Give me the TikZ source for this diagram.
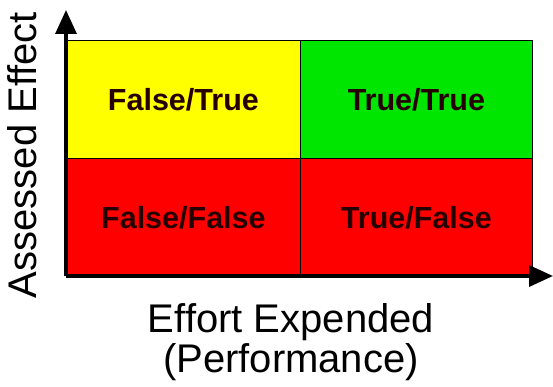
\documentclass[tikz,border=0pt]{standalone}
\usepackage{fontspec}
\setmainfont{Liberation Sans}
\usetikzlibrary{arrows.meta}
\definecolor{qyellow}{RGB}{255,255,0}
\definecolor{qgreen}{RGB}{0,230,0}
\definecolor{qred}{RGB}{255,0,0}
\tikzset{
  cell/.style={draw=black, line width=0.8pt, minimum width=234pt, minimum height=118pt, inner sep=0pt, anchor=north west, font=\bfseries\fontsize{30.5}{33}\selectfont, text=black!85!red},
  axis/.style={line width=3.5pt, -{Triangle[length=24pt,width=21pt]}},
  axislabel/.style={font=\fontsize{40}{44}\selectfont, inner sep=0pt}
}
\begin{document}
\begin{tikzpicture}[x=1pt,y=-1pt]
\useasboundingbox (0,0) rectangle (553,387);
\node[cell, fill=qyellow] (ft) at (66,40) {False/True};
\node[cell, fill=qgreen, minimum width=232pt] (tt) at (300,40) {True/True};
\node[cell, fill=qred] (ff) at (66,158) {False/False};
\node[cell, fill=qred, minimum width=232pt] (tf) at (300,158) {True/False};
\coordinate (o) at (66,276);
\coordinate (ytop) at (66,10);
\coordinate (xend) at (553,276);
\draw[axis] (o) -- (ytop);
\draw[axis] (o) -- (xend);
\node[axislabel, rotate=90] (yl) at (22,155) {Assessed Effect};
\node[axislabel] (xl1) at (291,322) {Effort Expended};
\node[axislabel] (xl2) at (291,362) {(Performance)};
\end{tikzpicture}
\end{document}
